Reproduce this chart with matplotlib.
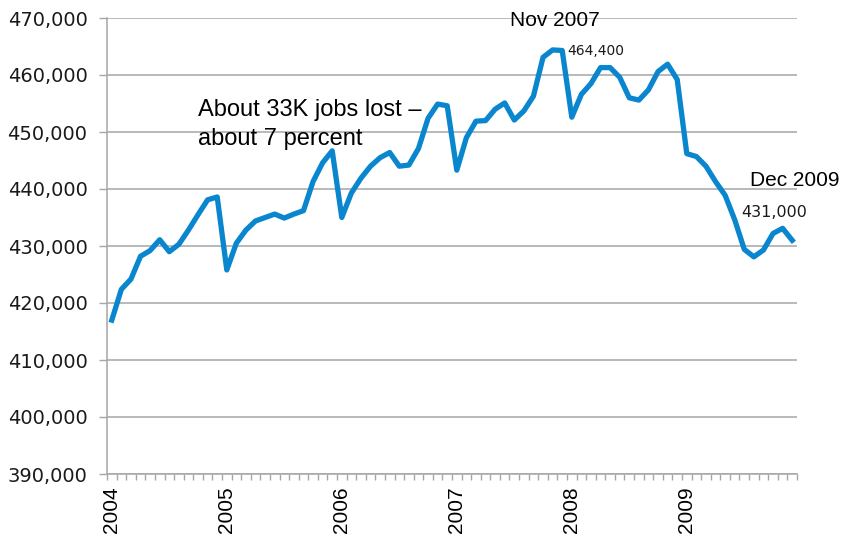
import matplotlib
matplotlib.use("Agg")
import matplotlib.pyplot as plt
from matplotlib.ticker import FuncFormatter, FixedLocator

years = ["2004", "2005", "2006", "2007", "2008", "2009"]
jobs_2004 = [417000, 422400, 424200, 428200, 429200, 431100, 429000, 430300, 432800, 435500, 438100, 438600]
jobs_2005 = [425800, 430500, 432800, 434400, 435000, 435600, 434900, 435600, 436200, 441300, 444600, 446700]
jobs_2006 = [435000, 439300, 441900, 444000, 445500, 446400, 444000, 444200, 447100, 452400, 454900, 454600]
jobs_2007 = [443300, 449000, 451900, 452000, 454000, 455100, 452100, 453700, 456300, 463100, 464400, 464300]
jobs_2008 = [452600, 456600, 458500, 461300, 461300, 459600, 456000, 455600, 457400, 460600, 461900, 459200]
jobs_2009 = [446200, 445700, 444000, 441300, 438900, 434600, 429400, 428100, 429300, 432200, 433100, 431000]
jobs = jobs_2004 + jobs_2005 + jobs_2006 + jobs_2007 + jobs_2008 + jobs_2009
months = list(range(len(jobs)))

fig = plt.figure(figsize=(8.43, 5.40), dpi=100)
ax = fig.add_axes([107/843, 1 - 474/540, (797 - 107)/843, (474 - 18)/540])

grid_c = "#a6a6a6"
ax.plot(months, jobs, color="#0a86cf", lw=3.8, solid_joinstyle="round", zorder=3)

ax.set_ylim(390000, 470000)
ax.set_xlim(-0.5, len(jobs) - 0.5)
ax.set_yticks(range(390000, 470001, 10000))
ax.yaxis.set_major_formatter(FuncFormatter(lambda v, p: f"{int(v):,}"))
ax.grid(axis="y", color=grid_c, lw=1.1, zorder=1)

ax.xaxis.set_major_locator(FixedLocator([12 * i for i in range(len(years))]))
ax.set_xticklabels(years, rotation=90, fontfamily="Liberation Sans", fontsize=15)
ax.xaxis.set_minor_locator(FixedLocator([i - 0.5 for i in range(len(jobs) + 1)]))
ax.tick_params(axis="x", which="major", length=0, pad=9)
ax.tick_params(axis="x", which="minor", length=4, color=grid_c, width=1)
ax.tick_params(axis="y", length=6, color=grid_c, width=1, pad=8, labelsize=14, labelcolor="#1a1a1a")
for lbl in ax.get_yticklabels():
    lbl.set_fontfamily("DejaVu Sans")

for s in ["top", "right"]:
    ax.spines[s].set_visible(False)
for s in ["left", "bottom"]:
    ax.spines[s].set_color(grid_c)
    ax.spines[s].set_linewidth(1.1)

ann = dict(fontfamily="Liberation Sans", color="black", va="baseline", ha="left", clip_on=False, zorder=4)
ax.text(8.96, 452800, "About 33K jobs lost \u2013", fontsize=17, **ann)
ax.text(8.96, 447700, "about 7 percent", fontsize=17, **ann)
ax.text(41.56, 468600, "Nov 2007", fontsize=15, **ann)
ax.text(66.56, 440530, "Dec 2009", fontsize=15, **ann)
ax.text(47.5, 463500, "464,400", fontsize=10, fontfamily="DejaVu Sans", color="#1a1a1a",
        va="baseline", ha="left", clip_on=False, zorder=4)
ax.text(65.7, 435030, "431,000", fontsize=11.5, fontfamily="DejaVu Sans", color="#1a1a1a",
        va="baseline", ha="left", clip_on=False, zorder=4)

fig.savefig("out.png", dpi=100)
